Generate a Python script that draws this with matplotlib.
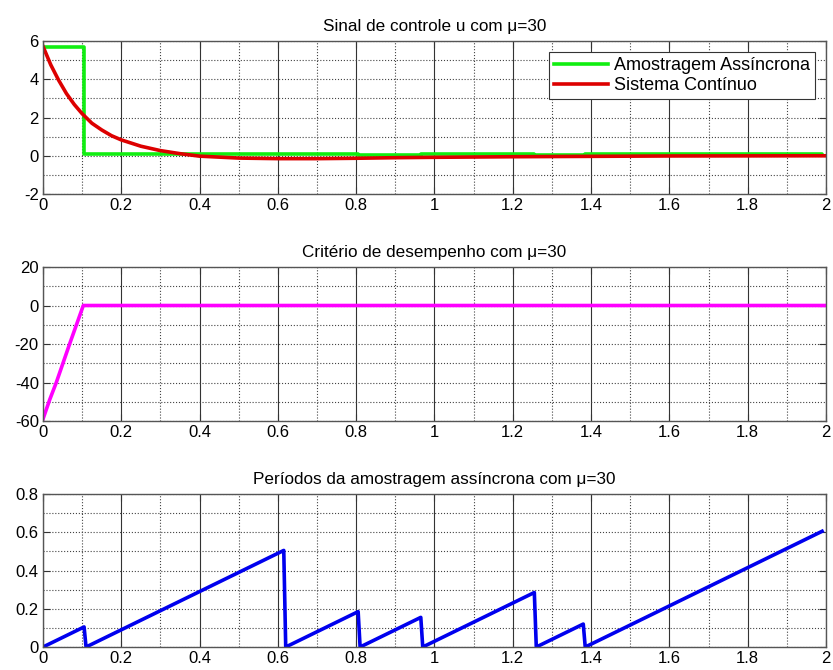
import numpy as np
import matplotlib
matplotlib.use("Agg")
import matplotlib.pyplot as plt
from matplotlib.ticker import MultipleLocator

plt.rcParams['font.family'] = ['Liberation Sans', 'DejaVu Sans']

# continuous-time control signal
t_cont = [0, 0.02, 0.04, 0.06, 0.08, 0.1, 0.125, 0.15, 0.175, 0.2, 0.25, 0.3, 0.35,
          0.4, 0.5, 0.6, 0.7, 0.8, 0.9, 1.0, 1.2, 1.4, 1.6, 2.0]
u_cont = [5.72, 4.75, 3.95, 3.25, 2.68, 2.2, 1.7, 1.35, 1.05, 0.83, 0.5, 0.27, 0.11,
          -0.02, -0.12, -0.15, -0.15, -0.13, -0.1, -0.08, -0.05, -0.03, -0.01, 0.0]

# asynchronous sampling instants and held control values
t_samp = [0, 0.105, 0.615, 0.805, 0.965, 1.255, 1.385, 1.99]
u_samp = [5.7, 0.09, 0.07, 0.05, 0.08, 0.04, 0.08, 0.02]

# performance criterion
t_crit = [0, 0.017, 0.034, 0.068, 0.103, 2.0]
j_crit = [-59, -49, -40, -20, 0, 0]

# time since last sample
t_per = [0, 0.105, 0.11, 0.615, 0.62, 0.805, 0.81, 0.965, 0.97, 1.255, 1.26, 1.38, 1.385, 1.99]
per = [0, 0.105, 0, 0.505, 0, 0.185, 0, 0.155, 0, 0.285, 0, 0.12, 0, 0.605]

fig = plt.figure(figsize=(8.33, 6.7), dpi=100)
ax1 = fig.add_axes([0.0516, 0.7104, 0.94, 0.2284])
ax2 = fig.add_axes([0.0516, 0.3716, 0.94, 0.2299])
ax3 = fig.add_axes([0.0516, 0.0343, 0.94, 0.2284])

def style(ax, ylim, ystep, title):
    ax.set_xlim(0, 2)
    ax.set_ylim(*ylim)
    ax.xaxis.set_major_locator(MultipleLocator(0.2))
    ax.xaxis.set_minor_locator(MultipleLocator(0.1))
    ax.yaxis.set_major_locator(MultipleLocator(ystep))
    ax.yaxis.set_minor_locator(MultipleLocator(ystep / 2))
    ax.xaxis.set_major_formatter(lambda v, p: ('%g' % round(v, 2)))
    ax.yaxis.set_major_formatter(lambda v, p: ('%g' % round(v, 2)))
    ax.grid(True, axis='x', which='major', color='#333333', linestyle='-', linewidth=0.8)
    ax.grid(True, axis='x', which='minor', color='#444444', linestyle=':', linewidth=0.8)
    ax.grid(True, axis='y', which='both', color='#444444', linestyle=':', linewidth=0.8)
    ax.set_axisbelow(True)
    ax.tick_params(which='major', direction='in', length=5, top=True, right=True,
                   labelsize=12, color='#333333', pad=3)
    ax.tick_params(which='minor', length=0)
    for s in ax.spines.values():
        s.set_color('#555555')
        s.set_linewidth(1.0)
    ax.set_title(title, fontsize=12.3, pad=7)

ax1.plot(t_samp, u_samp, drawstyle='steps-post', color='#11ee11', lw=2.6,
         label='Amostragem Assíncrona')
ax1.plot(t_cont, u_cont, color='#dd0000', lw=2.6, label='Sistema Contínuo')
style(ax1, (-2, 6), 2, 'Sinal de controle u com μ=30')
leg = ax1.legend(loc='upper right', fontsize=13, handlelength=3.0, handletextpad=0.3,
                 fancybox=False, framealpha=1, edgecolor='#333333', borderaxespad=0.6,
                 labelspacing=0.15, borderpad=0.3)
leg.get_frame().set_linewidth(0.8)

ax2.plot(t_crit, j_crit, color='#ff00ff', lw=2.6)
style(ax2, (-60, 20), 20, 'Critério de desempenho com μ=30')

ax3.plot(t_per, per, color='#0000ee', lw=2.6)
style(ax3, (0, 0.8), 0.2, 'Períodos da amostragem assíncrona com μ=30')

fig.savefig('out.png', dpi=100)
